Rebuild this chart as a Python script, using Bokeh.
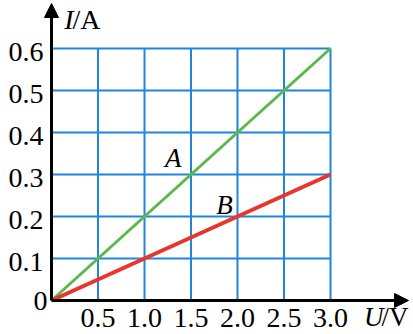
from bokeh.plotting import figure
from bokeh.models import Range1d, Arrow, NormalHead
from bokeh.core.properties import value
from bokeh.embed import file_html
from bokeh.resources import INLINE

# ---- data ----
u_ticks = [0.5, 1.0, 1.5, 2.0, 2.5, 3.0]
u_labels = ["0.5", "1.0", "1.5", "2.0", "2.5", "3.0"]
i_ticks = [0.1, 0.2, 0.3, 0.4, 0.5, 0.6]
i_labels = ["0.1", "0.2", "0.3", "0.4", "0.5", "0.6"]
line_a_u = [0.0, 3.0]
line_a_i = [0.0, 0.6]
line_b_u = [0.0, 3.0]
line_b_i = [0.0, 0.3]
u_max = 3.0
i_max = 0.6

# ---- layout (pixel geometry) ----
W, H = 413, 334
ox, oy = 51, 300          # origin pixel
sx = 279 / 3.0            # px per volt
sy = 252 / 0.6            # px per amp

x0 = -ox / sx
x1 = (W - ox) / sx
y0 = -(H - oy) / sy
y1 = oy / sy

p = figure(width=W, height=H, x_range=Range1d(x0, x1), y_range=Range1d(y0, y1),
           output_backend="svg", toolbar_location=None, min_border=0,
           x_axis_location=None, y_axis_location=None)
p.outline_line_color = None
p.xgrid.visible = False
p.ygrid.visible = False
p.background_fill_color = "white"
p.border_fill_color = "white"

grid_color = "#1e86dc"
p.segment(x0=u_ticks, y0=[0] * len(u_ticks), x1=u_ticks, y1=[i_max] * len(u_ticks),
          line_color=grid_color, line_width=2)
p.segment(x0=[0] * len(i_ticks), y0=i_ticks, x1=[u_max] * len(i_ticks), y1=i_ticks,
          line_color=grid_color, line_width=2)

p.line(line_a_u, line_a_i, line_color="#5cb84a", line_width=3)
p.line(line_b_u, line_b_i, line_color="#e8362a", line_width=4)

head_w = 14
p.add_layout(Arrow(end=NormalHead(size=head_w, fill_color="black", line_color="black"),
                   x_start=0, y_start=0, x_end=0, y_end=(oy - 3) / sy,
                   line_color="black", line_width=3))
p.add_layout(Arrow(end=NormalHead(size=head_w, fill_color="black", line_color="black"),
                   x_start=0, y_start=0, x_end=(408 - ox) / sx, y_end=0,
                   line_color="black", line_width=3))

font = value("Liberation Serif")
fs = "28px"

p.text(x=u_ticks, y=[0] * len(u_ticks), text=u_labels, text_font=font,
       text_font_size=fs, text_align="center", text_baseline="top",
       y_offset=8, text_color="black")
p.text(x=[0] * len(i_ticks), y=i_ticks, text=i_labels, text_font=font,
       text_font_size=fs, text_align="right", text_baseline="middle",
       x_offset=-8, y_offset=3, text_color="black")
p.text(x=[0], y=[0], text=["0"], text_font=font, text_font_size=fs,
       text_align="right", text_baseline="middle", x_offset=-4, y_offset=0,
       text_color="black")

yname_y = (oy - 19) / sy
p.text(x=[(73 - ox) / sx], y=[yname_y], text=["I"], text_font=font, text_font_size=fs,
       text_font_style="italic", text_align="right", text_baseline="alphabetic")
p.text(x=[(72 - ox) / sx], y=[yname_y], text=["/A"], text_font=font, text_font_size=fs,
       text_align="left", text_baseline="alphabetic")
xname_y = (oy - 316) / sy
p.text(x=[(383 - ox) / sx], y=[xname_y], text=["U"], text_font=font, text_font_size="27px",
       text_font_style="italic", text_align="right", text_baseline="alphabetic")
p.text(x=[(381 - ox) / sx], y=[xname_y], text=["/V"], text_font=font, text_font_size="27px",
       text_align="left", text_baseline="alphabetic")

p.text(x=[1.31], y=[0.34], text=["A"], text_font=font, text_font_size="27px",
       text_font_style="italic", text_align="center", text_baseline="middle")
p.text(x=[1.86], y=[0.228], text=["B"], text_font=font, text_font_size="27px",
       text_font_style="italic", text_align="center", text_baseline="middle")

open("out.html", "w").write(file_html(p, INLINE))
